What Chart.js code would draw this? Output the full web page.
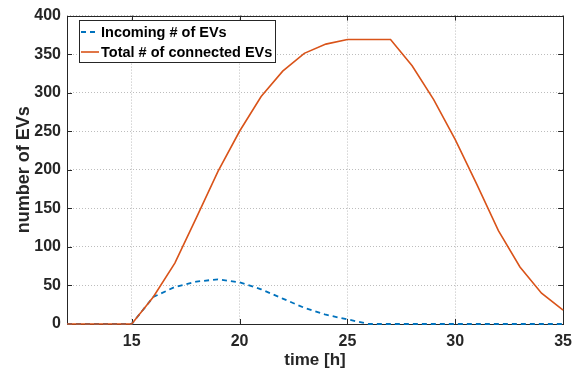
<!DOCTYPE html>
<html>
<head>
<meta charset="utf-8">
<script src="https://cdn.jsdelivr.net/npm/chart.js@4.4.1/dist/chart.umd.min.js"></script>
<style>
html,body{margin:0;padding:0;background:#fff;}
#wrap{width:580px;height:375px;position:relative;}
</style>
</head>
<body>
<div id="wrap"><canvas id="c" width="580" height="375"></canvas></div>
<script>
const hours = [12,13,14,15,16,17,18,19,20,21,22,23,24,25,26,27,28,29,30,31,32,33,34,35];
const incoming = [0,0,0,0,35,48,55,58,54,45,33,21,12,6,0,0,0,0,0,0,0,0,0,0];
const total = [0,0,0,0,35,79,138,198,250,295,328,351,363,369,369,369,335,291,239,181,121,74,40,18];
const xTicks = [15,20,25,30,35];
const seriesLabels = ['Incoming # of EVs','Total # of connected EVs'];
const yTitle = 'number of EVs';
const xTitle = 'time [h]';

const FONT = "'Liberation Sans', Arial, Helvetica, sans-serif";
const BLUE = '#0072BD', ORANGE = '#D95319', AX = '#262626';

const boxPlugin = {
  id: 'box',
  beforeDatasetsDraw(chart) {
    const {ctx, chartArea: a, scales} = chart;
    ctx.save();
    ctx.strokeStyle = AX;
    ctx.lineWidth = 1;
    ctx.strokeRect(Math.round(a.left)+0.5, Math.round(a.top)+0.5, Math.round(a.right-a.left), Math.round(a.bottom-a.top));
    const tl = 5;
    ctx.beginPath();
    scales.y.ticks.forEach(t => {
      const y = Math.round(scales.y.getPixelForValue(t.value)) + 0.5;
      ctx.moveTo(a.left, y); ctx.lineTo(a.left + tl, y);
      ctx.moveTo(a.right, y); ctx.lineTo(a.right - tl, y);
    });
    scales.x.ticks.forEach(t => {
      const x = Math.round(scales.x.getPixelForValue(t.value)) + 0.5;
      ctx.moveTo(x, a.bottom); ctx.lineTo(x, a.bottom - tl);
      ctx.moveTo(x, a.top); ctx.lineTo(x, a.top + tl);
    });
    ctx.stroke();
    ctx.restore();
  },
  afterDraw(chart) {
    const {ctx} = chart;
    const ds = chart.data.datasets;
    const bx = 79.5, by = 20.5, bw = 196, bh = 42;
    ctx.save();
    ctx.fillStyle = '#fff';
    ctx.fillRect(bx, by, bw, bh);
    ctx.strokeStyle = AX;
    ctx.lineWidth = 1;
    ctx.strokeRect(bx, by, bw, bh);
    ctx.font = "bold 14.5px " + FONT;
    ctx.textBaseline = 'middle';
    ctx.fillStyle = '#000';
    const rows = [32, 52];
    ds.forEach((d, i) => {
      const y = rows[i];
      ctx.strokeStyle = d.borderColor;
      ctx.lineWidth = d.borderWidth;
      ctx.setLineDash(d.borderDash || []);
      ctx.beginPath();
      ctx.moveTo(81, y); ctx.lineTo(99, y);
      ctx.stroke();
      ctx.setLineDash([]);
      ctx.fillText(d.label, 101, y + 1);
    });
    ctx.restore();
  }
};

new Chart(document.getElementById('c'), {
  type: 'line',
  data: {
    datasets: [
      {
        label: seriesLabels[0],
        data: hours.map((h, i) => ({x: h, y: incoming[i]})),
        borderColor: BLUE, borderWidth: 1.8, borderDash: [5, 4],
        pointRadius: 0, tension: 0, clip: false, order: 1, fill: false
      },
      {
        label: seriesLabels[1],
        data: hours.map((h, i) => ({x: h, y: total[i]})),
        borderColor: ORANGE, borderWidth: 1.6,
        pointRadius: 0, tension: 0, clip: false, order: 0, fill: false
      }
    ]
  },
  options: {
    responsive: false,
    animation: false,
    layout: {padding: {top: 15, right: 12, left: 0, bottom: 0}},
    plugins: {legend: {display: false}, tooltip: {enabled: false}},
    scales: {
      x: {
        type: 'linear', min: 12, max: 35,
        afterBuildTicks: s => { s.ticks = xTicks.map(v => ({value: v})); },
        afterFit: s => { s.height = 51; },
        grid: {color: '#bdbdbd', drawTicks: false, lineWidth: 1},
        border: {display: false, dash: [1, 2]},
        ticks: {padding: 8, color: AX, font: {family: FONT, size: 16, weight: 'bold'}, maxRotation: 0},
        title: {display: true, text: xTitle, color: AX, padding: {top: 0, bottom: 4}, font: {family: FONT, size: 17, weight: 'bold'}}
      },
      y: {
        min: 0, max: 400,
        afterFit: s => { s.width = 67; },
        grid: {color: '#bdbdbd', drawTicks: false, lineWidth: 1},
        border: {display: false, dash: [1, 2]},
        ticks: {stepSize: 50, padding: 6, color: AX, font: {family: FONT, size: 16, weight: 'bold'}},
        title: {display: true, text: yTitle, color: AX, padding: {top: 13, bottom: 0}, font: {family: FONT, size: 18, weight: 'bold'}}
      }
    }
  },
  plugins: [boxPlugin]
});
</script>
</body>
</html>
